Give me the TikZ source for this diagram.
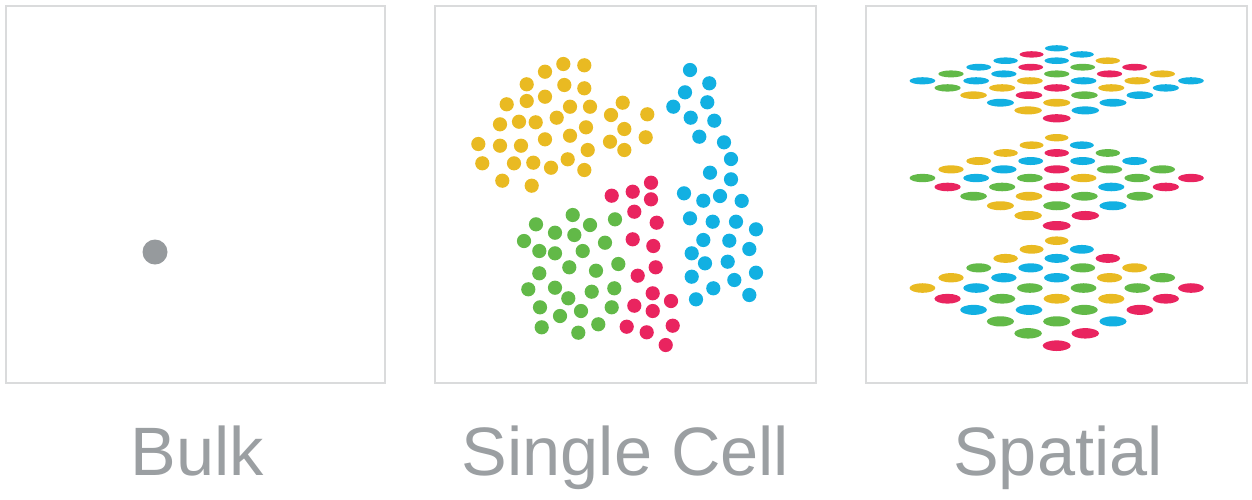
\documentclass[tikz,border=0pt]{standalone}
\usepackage{fontspec}
\setmainfont{Liberation Sans}
\definecolor{boxgray}{RGB}{218,219,220}
\definecolor{textgray}{RGB}{155,159,162}
\definecolor{dotgray}{RGB}{150,154,157}
\definecolor{spY}{RGB}{233,186,34}
\definecolor{spR}{RGB}{233,36,95}
\definecolor{spC}{RGB}{18,176,226}
\definecolor{spG}{RGB}{98,185,72}
\newcommand\sprow[2]{%
  \pgfmathtruncatemacro\spm{min(#1,10-#1)}%
  \foreach \spcol [count=\spk from 0] in {#2} {%
    \pgfmathsetmacro\spx{1056.7+(-\spm+2*\spk)*(24.7+0.43*#1)}%
    \pgfmathsetmacro\spy{\LA+\LB*#1+\LC*#1*#1}%
    \pgfmathsetmacro\sprx{11.8+0.22*#1}%
    \pgfmathsetmacro\spry{\LR+0.1*#1}%
    \fill[sp\spcol] (\spx,\spy) ellipse [x radius=\sprx pt, y radius=\spry pt];}}
\begin{document}
\begin{tikzpicture}[x=1pt,y=-1pt,
  panel/.style={draw=boxgray,line width=2pt},
  caption/.style={text=textgray,font=\fontsize{68.5}{80}\selectfont,anchor=base,inner sep=0pt}]
\useasboundingbox (0,0) rectangle (1252,499);
% panels
\draw[panel] (6,6) rectangle (385,383);
\draw[panel] (435,6) rectangle (816,383);
\draw[panel] (866,6) rectangle (1247,383);
% bulk
\fill[dotgray] (155,252) circle (12.5pt);
% single cell
\foreach \px/\py in {563.3/64, 584.3/65.3, 545/71.7, 526.7/84.3, 564.3/85, 584.3/88.3, 506.7/104.3, 526.7/101, 545/96.7, 570/106.7, 590/106.7, 622.7/102.7, 611/115, 647.3/114.3, 500/124.3, 519/121.7, 535.7/122.3, 556.7/117.7, 586/127.3, 624.3/129, 478.3/144, 500/145.7, 521/145.7, 545/139.3, 570/135.7, 610/141.7, 645.7/137.3, 587.7/150, 624.3/150, 482.3/163.3, 514/163.3, 533.3/162.7, 551/167.7, 567.7/159.3, 584.3/170, 502.3/180.7, 531.7/185.7}
  \fill[spY] (\px,\py) circle (7.1pt);
\foreach \px/\py in {690/70, 709.3/83.3, 685/92.3, 707.3/102.3, 673.3/106.7, 690.7/117.7, 714.3/120.7, 699.3/136.7, 724/142.3, 731/159, 710/172.7, 731/179.3, 684/193.3, 703.3/200.7, 720/196, 741.7/200.9, 690/218.3, 712.7/221.7, 736/221.7, 756/229.3, 703.3/240, 729.3/240.7, 749.3/249, 691.7/253.3, 705/263.3, 727.7/261.7, 756/272.7, 691.7/276.7, 734.3/280, 713.3/288.3, 696/299.3, 749.3/295}
  \fill[spC] (\px,\py) circle (7.1pt);
\foreach \px/\py in {651/182.7, 632.7/191.7, 611.7/195.7, 651/199.3, 634.3/211.7, 656.7/222.7, 632.7/239.3, 653.3/246, 637.7/275.7, 655.7/267.3, 652.7/293.3, 671/301, 634.3/305.7, 652.7/311, 626.7/326.7, 646.7/332.3, 672.7/325.7, 665.7/345}
  \fill[spR] (\px,\py) circle (7.1pt);
\foreach \px/\py in {572.7/215, 536/224.3, 590/225, 615/219.3, 555/232.7, 574.3/235, 524/241, 605/242.7, 539.3/251, 555/253.3, 582.7/251, 618.3/264, 569.3/267.3, 596/270.7, 539.3/273.3, 528.3/289.3, 555/287.7, 568.3/298.3, 591.7/291.7, 614.3/288.3, 540/307.3, 560/316, 581/311, 611.7/307.3, 541.7/327.3, 578.3/332.7, 598.3/324.3}
  \fill[spG] (\px,\py) circle (7.1pt);
% spatial layer 1
\def\LA{48.3}\def\LB{6}\def\LC{0.1}\def\LR{3.1}
\sprow{0}{C}\sprow{1}{R,C}\sprow{2}{C,C,Y}\sprow{3}{C,R,G,R}\sprow{4}{G,C,G,R,Y}
\sprow{5}{C,C,Y,C,Y,C}\sprow{6}{G,Y,R,Y,C}\sprow{7}{Y,R,G,C}\sprow{8}{C,Y,C}\sprow{9}{Y,C}\sprow{10}{R}
% spatial layer 2
\def\LA{137.7}\def\LB{7.33}\def\LC{0.147}\def\LR{3.7}
\sprow{0}{Y}\sprow{1}{Y,C}\sprow{2}{Y,R,G}\sprow{3}{Y,C,C,C}\sprow{4}{Y,C,R,G,G}
\sprow{5}{G,C,G,Y,G,R}\sprow{6}{R,G,R,C,R}\sprow{7}{G,Y,G,G}\sprow{8}{Y,G,C}\sprow{9}{Y,R}\sprow{10}{R}
% spatial layer 3
\def\LA{240.7}\def\LB{8.43}\def\LC{0.207}\def\LR{4.3}
\sprow{0}{Y}\sprow{1}{Y,C}\sprow{2}{Y,C,R}\sprow{3}{G,C,G,Y}\sprow{4}{Y,C,C,Y,G}
\sprow{5}{Y,C,G,G,G,R}\sprow{6}{R,G,Y,Y,R}\sprow{7}{C,C,G,R}\sprow{8}{G,G,C}\sprow{9}{G,R}\sprow{10}{R}
% captions
\node[caption] (bulk) at (197.5,475) {Bulk};
\node[caption] (single) at (625.5,475) {Single Cell};
\node[caption] (spatial) at (1058,475) {Spatial};
\end{tikzpicture}
\end{document}
